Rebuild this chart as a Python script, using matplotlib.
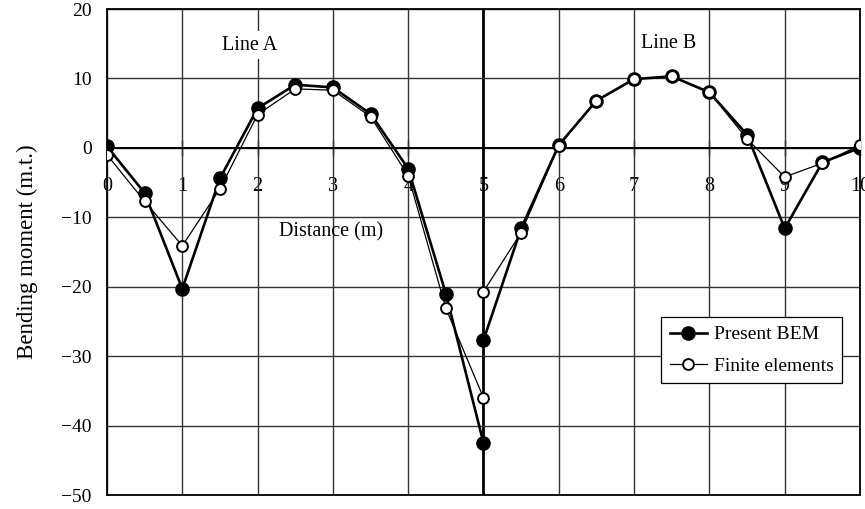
import numpy as np
import matplotlib
matplotlib.use("Agg")
import matplotlib.pyplot as plt

plt.rcParams['font.family'] = ['Liberation Serif', 'DejaVu Serif']
plt.rcParams['font.size'] = 14.5
plt.rcParams['axes.unicode_minus'] = True

# Line A runs 0-5 m, line B 5-10 m
x_a = [0, 0.5, 1, 1.5, 2, 2.5, 3, 3.5, 4, 4.5, 5]
x_b = [5, 5.5, 6, 6.5, 7, 7.5, 8, 8.5, 9, 9.5, 10]
bem_a = [0.2, -6.5, -20.3, -4.4, 5.7, 9.1, 8.7, 4.9, -3.0, -21.0, -42.5]
fe_a = [-1.0, -7.7, -14.1, -5.9, 4.8, 8.5, 8.3, 4.5, -4.0, -23.1, -36.0]
bem_b = [-27.7, -11.6, 0.4, 6.8, 9.9, 10.3, 8.0, 1.9, -11.6, -2.1, 0.0]
fe_b = [-20.7, -12.2, 0.3, 6.8, 9.9, 10.3, 8.0, 1.3, -4.2, -2.2, 0.4]

xticks = list(range(0, 11))
yticks = [-50, -40, -30, -20, -10, 0, 10, 20]

fig = plt.figure(figsize=(8.65, 5.09), dpi=100)
ax = fig.add_axes([0.1237, 0.0275, 0.8705, 0.9548])
ax.set_xlim(0, 10)
ax.set_ylim(-50, 20)

# grid
for xv in xticks:
    lw = 2.0 if xv == 5 else 1.0
    ax.axvline(xv, color='black' if xv == 5 else '#333333', lw=lw, zorder=1)
for yv in yticks:
    ax.axhline(yv, color='#333333', lw=1.0, zorder=1)
ax.axhline(0, color='black', lw=1.4, zorder=1.5)

bem_style = dict(color='black', lw=1.9, marker='o', ms=9.5, mfc='black',
                 mec='black', zorder=3)
fe_style = dict(color='black', lw=0.9, marker='o', ms=7.8, mfc='white',
                mec='black', mew=1.4, zorder=4)
ax.plot(x_a, bem_a, label='Present BEM', **bem_style)
ax.plot(x_b, bem_b, **bem_style)
ax.plot(x_a, fe_a, label='Finite elements', **fe_style)
ax.plot(x_b, fe_b, **fe_style)

ax.set_xticks([])
ax.set_yticks(yticks)
ax.tick_params(axis='y', length=0, pad=11, labelsize=14)
for s in ax.spines.values():
    s.set_linewidth(1.3)

# distance axis sitting on the zero line
sec = ax.secondary_xaxis(5 / 7)
sec.set_alignment('bottom')
sec.set_xticks(xticks)
sec.tick_params(direction='inout', length=12, width=1.0, pad=15, labelsize=14.5)
for s in sec.spines.values():
    s.set_visible(False)

ax.set_ylabel('Bending moment (m.t.)', fontsize=16.5)
ax.yaxis.set_label_coords(-0.092, 0.5)

box = dict(facecolor='white', edgecolor='none', pad=3)
ax.text(1.9, 14.8, 'Line A', ha='center', va='center', bbox=box, zorder=2)
ax.text(7.46, 15.0, 'Line B', ha='center', va='center', bbox=box, zorder=2)
ax.text(2.97, -12.1, 'Distance (m)', ha='center', va='center', zorder=2)

leg = ax.legend(loc='upper left', bbox_to_anchor=(0.736, 0.366), fancybox=False,
                framealpha=1, edgecolor='black', handlelength=1.9,
                handletextpad=0.35, borderpad=0.45, labelspacing=0.7,
                borderaxespad=0, fontsize=14)
leg.get_frame().set_linewidth(0.9)

fig.savefig('out.png', dpi=100)
